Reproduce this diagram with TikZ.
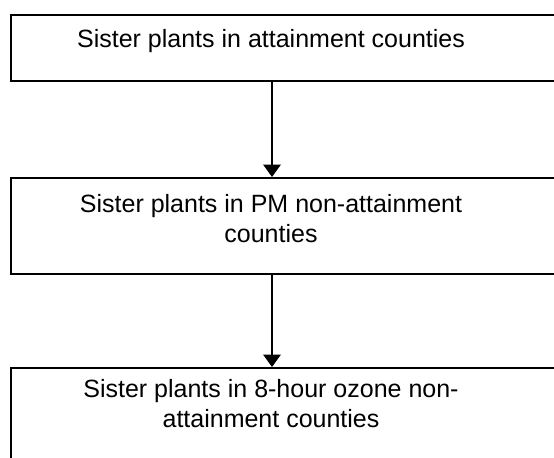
\documentclass[tikz,border=0pt]{standalone}
\usepackage{fontspec}
\setmainfont{Liberation Sans}
\usetikzlibrary{arrows.meta}
\begin{document}
\begin{tikzpicture}[x=0.48pt,y=-0.48pt,
  boxframe/.style={draw=black,line width=1pt},
  label/.style={font=\fontsize{12}{14.4}\selectfont,inner sep=0pt,align=center,anchor=base},
  flow/.style={line width=1pt,-{Triangle[width=8.4pt,length=6pt]}}]
\useasboundingbox (0,0) rectangle (554,457);
\clip (0,0) rectangle (554,457);
% boxes (right edges lie beyond the picture)
\node[boxframe,anchor=north west,minimum width=590.5*0.48pt,minimum height=65.5*0.48pt,inner sep=0pt] (b1) at (9.5,14) {};
\node[boxframe,anchor=north west,minimum width=590.5*0.48pt,minimum height=96*0.48pt,inner sep=0pt] (b2) at (9.5,177) {};
\node[boxframe,anchor=north west,minimum width=590.5*0.48pt,minimum height=150*0.48pt,inner sep=0pt] (b3) at (9.5,367) {};
% texts (multi-line nodes: base = last line's baseline)
\node[label] (t1) at (271,47) {Sister plants in attainment counties};
\node[label] (t2) at (271,242) {Sister plants in PM non-attainment\\counties};
\node[label] (t3) at (271,427) {Sister plants in 8-hour ozone non-\\attainment counties};
% connectors
\coordinate (ax) at (272,0);
\draw[flow] (b1.south -| ax) -- (b2.north -| ax);
\draw[flow] (b2.south -| ax) -- (b3.north -| ax);
\end{tikzpicture}
\end{document}
